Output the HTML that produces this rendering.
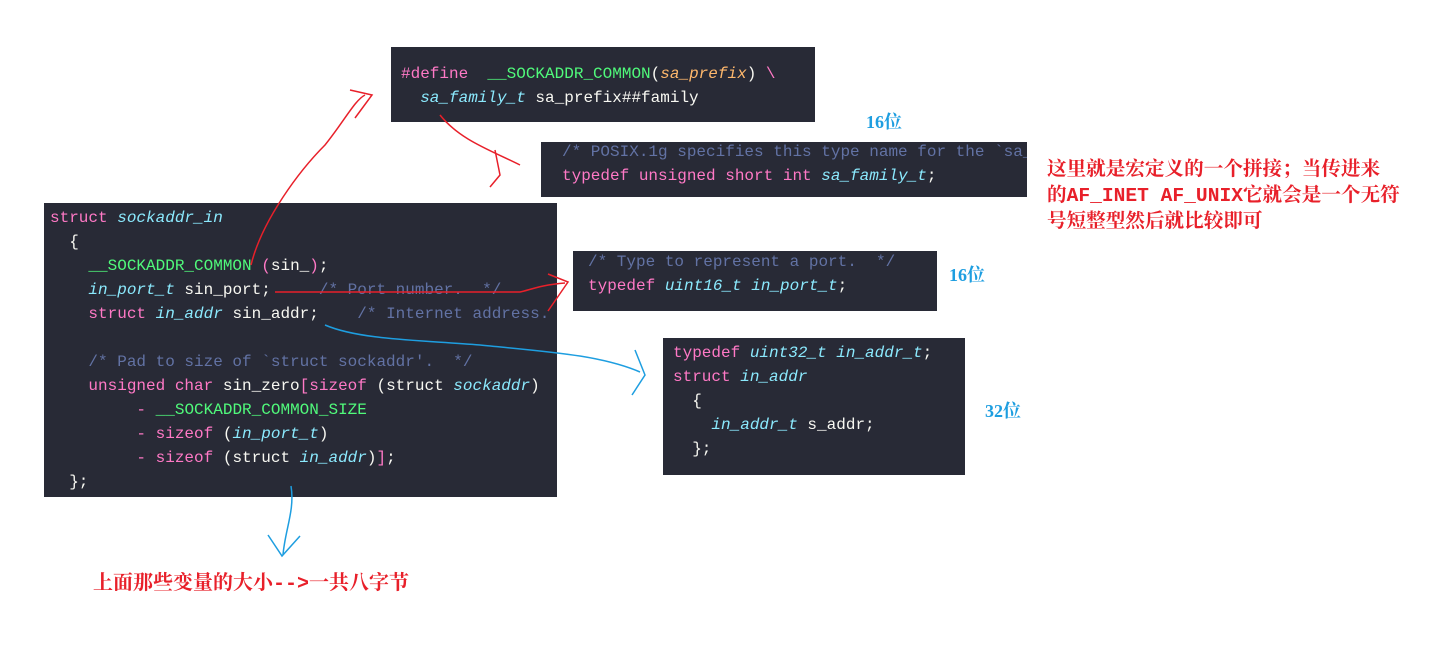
<!DOCTYPE html>
<html><head><meta charset="utf-8"><style>
body{margin:0;width:1429px;height:654px;background:#fff;position:relative;overflow:hidden}
.b{position:absolute;background:#282a36}
.c{position:absolute;font-family:"Liberation Mono",monospace;font-size:16px;color:#f8f8f2;white-space:pre;line-height:24px}
.k{color:#ff79c6}.t{color:#8be9fd;font-style:italic}.g{color:#50fa7b}.o{color:#ffb86c;font-style:italic}.cm{color:#6272a4}
.bl{position:absolute;color:#1e9ee0;font-family:"Liberation Serif","Noto Serif CJK SC",serif;font-weight:bold;font-size:18px}
.r{position:absolute;color:#e8202a;font-family:"Liberation Mono","Noto Serif CJK SC",serif;font-weight:bold;font-size:19.6px;line-height:26px;white-space:pre}
</style></head><body>
<div class="b" style="left:391px;top:47px;width:424px;height:75px"></div>
<div class="c" style="left:401px;top:62px"><span class="k">#define</span>  <span class="g">__SOCKADDR_COMMON</span>(<span class="o">sa_prefix</span>) <span class="k">\</span>
  <span class="t">sa_family_t</span> sa_prefix##family</div>
<div class="b" style="left:541px;top:142px;width:486px;height:55px"></div>
<div class="c" style="left:562px;top:140px;width:465px;overflow:hidden"><span class="cm">/* POSIX.1g specifies this type name for the `sa_</span>
<span class="k">typedef unsigned short int</span> <span class="t">sa_family_t</span>;</div>
<div class="b" style="left:44px;top:203px;width:513px;height:294px"></div>
<div class="c" style="left:50px;top:206px;width:500px;overflow:hidden"><span class="k">struct</span> <span class="t">sockaddr_in</span>
  {
    <span class="g">__SOCKADDR_COMMON</span> <span class="k">(</span>sin_<span class="k">)</span>;
    <span class="t">in_port_t</span> sin_port;     <span class="cm">/* Port number.  */</span>
    <span class="k">struct</span> <span class="t">in_addr</span> sin_addr;    <span class="cm">/* Internet address.  */</span>

    <span class="cm">/* Pad to size of `struct sockaddr'.  */</span>
    <span class="k">unsigned char</span> sin_zero<span class="k">[sizeof</span> (struct <span class="t">sockaddr</span>)
         <span class="k">-</span> <span class="g">__SOCKADDR_COMMON_SIZE</span>
         <span class="k">- sizeof</span> (<span class="t">in_port_t</span>)
         <span class="k">- sizeof</span> (struct <span class="t">in_addr</span>)<span class="k">]</span>;
  };</div>
<div class="b" style="left:573px;top:251px;width:364px;height:60px"></div>
<div class="c" style="left:588px;top:250px"><span class="cm">/* Type to represent a port.  */</span>
<span class="k">typedef</span> <span class="t">uint16_t in_port_t</span>;</div>
<div class="b" style="left:663px;top:338px;width:302px;height:137px"></div>
<div class="c" style="left:673px;top:341px"><span class="k">typedef</span> <span class="t">uint32_t in_addr_t</span>;
<span class="k">struct</span> <span class="t">in_addr</span>
  {
    <span class="t">in_addr_t</span> s_addr;
  };</div>
<div class="bl" style="left:866px;top:108px">16位</div>
<div class="bl" style="left:949px;top:261px">16位</div>
<div class="bl" style="left:985px;top:397px">32位</div>
<div class="r" style="left:1047px;top:157px">这里就是宏定义的一个拼接；当传进来
的AF_INET AF_UNIX它就会是一个无符
号短整型然后就比较即可</div>
<div class="r" style="left:93px;top:572px;font-size:20px">上面那些变量的大小-->一共八字节</div>
<svg width="1429" height="654" style="position:absolute;left:0;top:0" fill="none" stroke-width="1.5">
<g stroke="#e8202a">
<path d="M251,265 C262,220 300,170 325,145 C345,120 355,100 365,95"/>
<path d="M350,90 L372,95 L355,118"/>
<path d="M440,115 C460,140 490,150 520,165"/>
<path d="M495,150 L500,175 L490,187"/>
<path d="M275,292 L520,292 C530,290 540,285 565,283"/>
<path d="M548,274 L568,282 L548,311"/>
</g>
<g stroke="#1e9ee0">
<path d="M325,325 C360,340 420,340 480,345 C550,352 600,355 640,372"/>
<path d="M635,350 L645,375 L632,395"/>
<path d="M291,486 C295,510 285,530 283,555"/>
<path d="M268,535 L282,556 L300,536"/>
</g>
</svg>
</body></html>
